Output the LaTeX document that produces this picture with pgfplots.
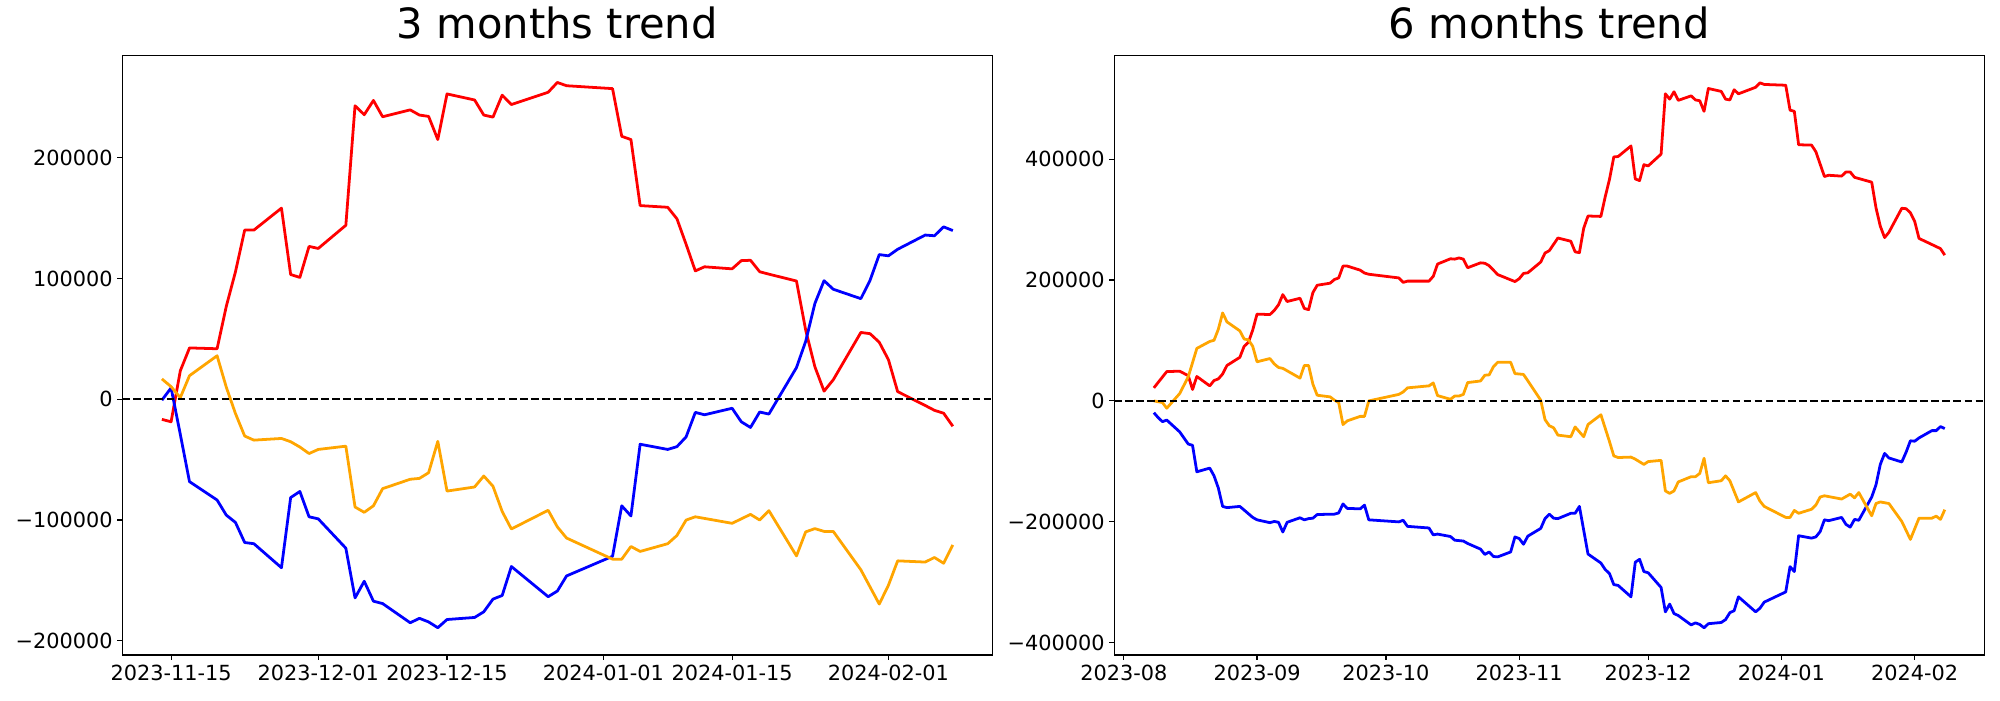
\documentclass[border=0pt]{standalone}
\usepackage{fontspec}
\setmainfont{DejaVu Sans}
\usepackage{pgfplots}
\pgfplotsset{compat=1.18}

\pgfplotsset{
  mystyle/.style={
    scale only axis, width=626.4pt, height=431.6pt,
    anchor=south west,
    axis line style={line width=0.8pt},
    tick align=outside, tick pos=left,
    major tick length=3.5pt,
    every tick/.style={black, line width=0.8pt},
    tick label style={font=\fontsize{15}{18}\selectfont, black},
    title style={font=\fontsize{30}{36}\selectfont, at={(0.5,1)}, anchor=base, yshift=6.5pt},
    scaled y ticks=false,
  },
  dl/.style={line width=2pt, line join=round, mark=none},
}
\definecolor{mplorange}{RGB}{255,165,0}

\begin{document}
\begin{tikzpicture}
\path[use as bounding box] (0,0) rectangle (1440pt,504pt);

\begin{axis}[mystyle, at={(88.1pt,32.4pt)},
  xmin=-5.3, xmax=89.3, ymin=-211800, ymax=284800,
  xtick={0,16,30,47,61,78},
  xticklabels={2023-11-15,2023-12-01,2023-12-15,2024-01-01,2024-01-15,2024-02-01},
  ytick={-200000,-100000,0,100000,200000},
  yticklabels={−200000,−100000,0,100000,200000},
  title={3 months trend}]
\addplot[dl, red] coordinates {
(-1,-16600) (0,-18600) (1,23600) (2,42600) (5,41900) (6,77000) (7,105700) (8,140200) (9,140200)
(12,158400) (13,103400) (14,101000) (15,126700) (16,125000) (19,144200) (20,243200) (21,235800)
(22,247600) (23,234100) (26,239800) (27,235500) (28,234400) (29,215200) (30,253000) (33,248000)
(34,235500) (35,233800) (36,252000) (37,244200) (41,254400) (42,262500) (43,259800) (48,257400)
(49,217900) (50,215200) (51,160500) (54,159100) (55,149600) (56,128400) (57,106400) (58,109800)
(61,108100) (62,114900) (63,115200) (64,105700) (65,103700) (68,98000) (69,57400) (70,27000)
(71,6800) (72,16200) (75,55400) (76,54400) (77,47300) (78,32800) (79,6400) (82,-5100) (83,-9100)
(84,-11500) (85,-22300)
};
\addplot[dl, blue] coordinates {
(-1,-700) (0,9500) (1,-29000) (2,-68200) (5,-83400) (6,-95900) (7,-102000) (8,-118600) (9,-119600)
(12,-139500) (13,-81400) (14,-76300) (15,-97300) (16,-99000) (19,-123300) (20,-164500) (21,-150700)
(22,-167200) (23,-169200) (26,-185100) (27,-181400) (28,-184400) (29,-189200) (30,-182400)
(33,-180700) (34,-176000) (35,-165500) (36,-162500) (37,-138500) (41,-163500) (42,-158800)
(43,-146300) (48,-130000) (49,-88200) (50,-96600) (51,-37200) (54,-41500) (55,-39200) (56,-31100)
(57,-10800) (58,-12800) (61,-7400) (62,-18600) (63,-23300) (64,-10500) (65,-12200) (68,26300)
(69,48000) (70,79400) (71,98300) (72,91200) (75,83400) (76,98600) (77,119900) (78,118900)
(79,124300) (82,136100) (83,135500) (84,142900) (85,139800)
};
\addplot[dl, mplorange] coordinates {
(-1,16900) (0,10500) (1,1400) (2,19600) (5,36100) (6,10100) (7,-11800) (8,-30400) (9,-33800)
(12,-32400) (13,-35100) (14,-39500) (15,-44900) (16,-41500) (19,-38800) (20,-89200) (21,-93600)
(22,-88200) (23,-74000) (26,-66200) (27,-65500) (28,-60800) (29,-34800) (30,-76000) (33,-72600)
(34,-63500) (35,-72000) (36,-92900) (37,-107400) (41,-91900) (42,-105700) (43,-114900)
(48,-132400) (49,-132400) (50,-121900) (51,-126000) (54,-119600) (55,-112800) (56,-100000)
(57,-97300) (61,-102700) (62,-99000) (63,-95300) (64,-100000) (65,-92200) (68,-129700)
(69,-109800) (70,-107100) (71,-109400) (72,-109400) (75,-141200) (77,-169600) (78,-154000)
(79,-133800) (82,-134800) (83,-131000) (84,-135800) (85,-120600)
};
\addplot[black, line width=1.5pt, dash pattern=on 5.55pt off 2.4pt] coordinates {(-5.3,0) (89.3,0)};
\end{axis}

\begin{axis}[mystyle, at={(802.3pt,32.4pt)},
  xmin=-2.2, xmax=200.2, ymin=-420500, ymax=571500,
  xtick={0,31,61,92,122,153,184},
  xticklabels={2023-08,2023-09,2023-10,2023-11,2023-12,2024-01,2024-02},
  ytick={-400000,-200000,0,200000,400000},
  yticklabels={−400000,−200000,0,200000,400000},
  title={6 months trend}]
\addplot[dl, red] coordinates {
(7,21600) (10,48500) (13,49200) (15,41800) (16,18900) (17,40400) (20,24900) (21,33700) (22,36400)
(23,44500) (24,58600) (27,72100) (28,90300) (29,97000) (30,117300) (31,143600) (34,142900)
(35,149600) (36,159100) (37,175900) (38,164500) (41,169800) (42,153000) (43,151000) (44,179300)
(45,191400) (48,194800) (49,200900) (50,203500) (51,223100) (52,223100) (55,216400) (56,211600)
(57,209600) (64,203500) (65,196100) (66,198200) (71,198200) (72,206200) (73,226500) (76,235200)
(77,234600) (78,236600) (79,234600) (80,220400) (83,228500) (84,227800) (85,223800) (87,209000)
(91,197500) (92,202200) (93,211000) (94,212000) (97,229800) (98,244700) (99,248700) (101,269600)
(104,264200) (105,246700) (106,245300) (107,285800) (108,306000) (111,305300) (112,337700)
(113,366700) (114,403700) (115,404400) (118,421900) (119,367300) (120,364600) (121,390900)
(122,388900) (125,408400) (126,508200) (127,499400) (128,511600) (129,497400) (132,504800)
(133,498100) (134,496700) (135,479200) (136,517000) (139,512200) (140,499400) (141,498100)
(142,514900) (143,508200) (147,519000) (148,526400) (149,523700) (154,522400) (155,481200)
(156,479200) (157,423900) (160,423300) (161,412500) (163,371400) (164,373400) (167,372000)
(168,378800) (169,378800) (170,370000) (174,362000) (175,319500) (176,289100) (177,270300)
(178,279000) (181,318800) (182,318100) (183,311400) (184,297200) (185,268900) (188,258800)
(190,252000) (191,241300)
};
\addplot[dl, blue] coordinates {
(7,-19500) (8,-27600) (9,-34400) (10,-31700) (13,-51200) (15,-71400) (16,-73500) (17,-117300)
(20,-111200) (21,-124000) (22,-144200) (23,-174600) (24,-176600) (27,-174600) (28,-180600)
(30,-192800) (31,-196800) (34,-201500) (35,-199500) (36,-200900) (37,-217000) (38,-200900)
(41,-193400) (42,-196800) (43,-194800) (44,-194100) (45,-188000) (49,-187400) (50,-185400)
(51,-170500) (52,-177900) (55,-178600) (56,-172500) (57,-196800) (64,-200200) (65,-197500)
(66,-207600) (71,-210300) (72,-221700) (73,-220400) (76,-224400) (77,-230500) (79,-231900)
(80,-235900) (83,-245300) (84,-254100) (85,-250000) (86,-257500) (87,-258100) (90,-250000)
(91,-225100) (92,-227800) (93,-237200) (94,-223800) (97,-211000) (98,-194800) (99,-187400)
(100,-194100) (101,-194800) (104,-186000) (105,-186000) (106,-174600) (108,-253400) (111,-268300)
(112,-279000) (113,-285800) (114,-304000) (115,-305300) (118,-324200) (119,-266900) (120,-262200)
(121,-282400) (122,-284400) (125,-308700) (126,-349100) (127,-336300) (128,-351800) (129,-355200)
(132,-370700) (133,-367300) (134,-370000) (135,-375400) (136,-368700) (139,-366700) (140,-361900)
(141,-350500) (142,-347100) (143,-324200) (147,-349100) (148,-343100) (149,-333000) (154,-316100)
(155,-274300) (156,-282400) (157,-223100) (160,-227100) (161,-225100) (162,-216400) (163,-196800)
(164,-198200) (167,-192800) (168,-204200) (169,-208900) (170,-196100) (171,-197500) (174,-159100)
(175,-138900) (176,-105100) (177,-86900) (178,-94400) (181,-101100) (182,-84900) (183,-66000)
(184,-66700) (185,-61300) (188,-49200) (189,-49200) (190,-42500) (191,-45800)
};
\addplot[dl, mplorange] coordinates {
(7,0) (9,-2700) (10,-12100) (13,12100) (15,39800) (17,86900) (20,98400) (21,100400) (22,118600)
(23,145600) (24,130800) (27,115900) (28,102400) (29,101100) (30,90300) (31,64700) (34,70100)
(35,61300) (36,55300) (37,53900) (41,37700) (42,58600) (43,58600) (44,27600) (45,9400) (48,6700)
(49,1300) (50,-2700) (51,-39100) (52,-33000) (55,-25600) (56,-25600) (57,0) (64,10800) (65,14800)
(66,21600) (71,24900) (72,29700) (73,8800) (76,2700) (77,8100) (78,8100) (79,10800) (80,30300)
(83,33000) (84,42500) (85,43100) (86,56600) (87,64000) (90,64000) (91,45200) (93,43800) (97,1300)
(98,-31000) (99,-41100) (100,-44500) (101,-56600) (104,-59300) (105,-43100) (107,-59300)
(108,-39100) (111,-22900) (113,-67400) (114,-91000) (115,-93700) (118,-93000) (119,-96400)
(121,-105100) (122,-100400) (125,-98400) (126,-149000) (127,-153000) (128,-149000) (129,-134100)
(132,-125400) (133,-125400) (134,-120000) (135,-95000) (136,-135400) (139,-132100) (140,-124000)
(141,-132100) (143,-167200) (147,-151700) (148,-165800) (149,-174600) (154,-192800) (155,-192800)
(156,-181300) (157,-186000) (160,-179300) (161,-172500) (162,-159100) (163,-157000) (167,-162400)
(169,-154300) (170,-160400) (171,-151700) (174,-190100) (175,-169800) (176,-167200) (178,-169800)
(181,-199500) (183,-229200) (185,-194100) (188,-194100) (189,-190700) (190,-196100) (191,-180000)
};
\addplot[black, line width=1.5pt, dash pattern=on 5.55pt off 2.4pt] coordinates {(-2.2,0) (200.2,0)};
\end{axis}
\end{tikzpicture}
\end{document}
